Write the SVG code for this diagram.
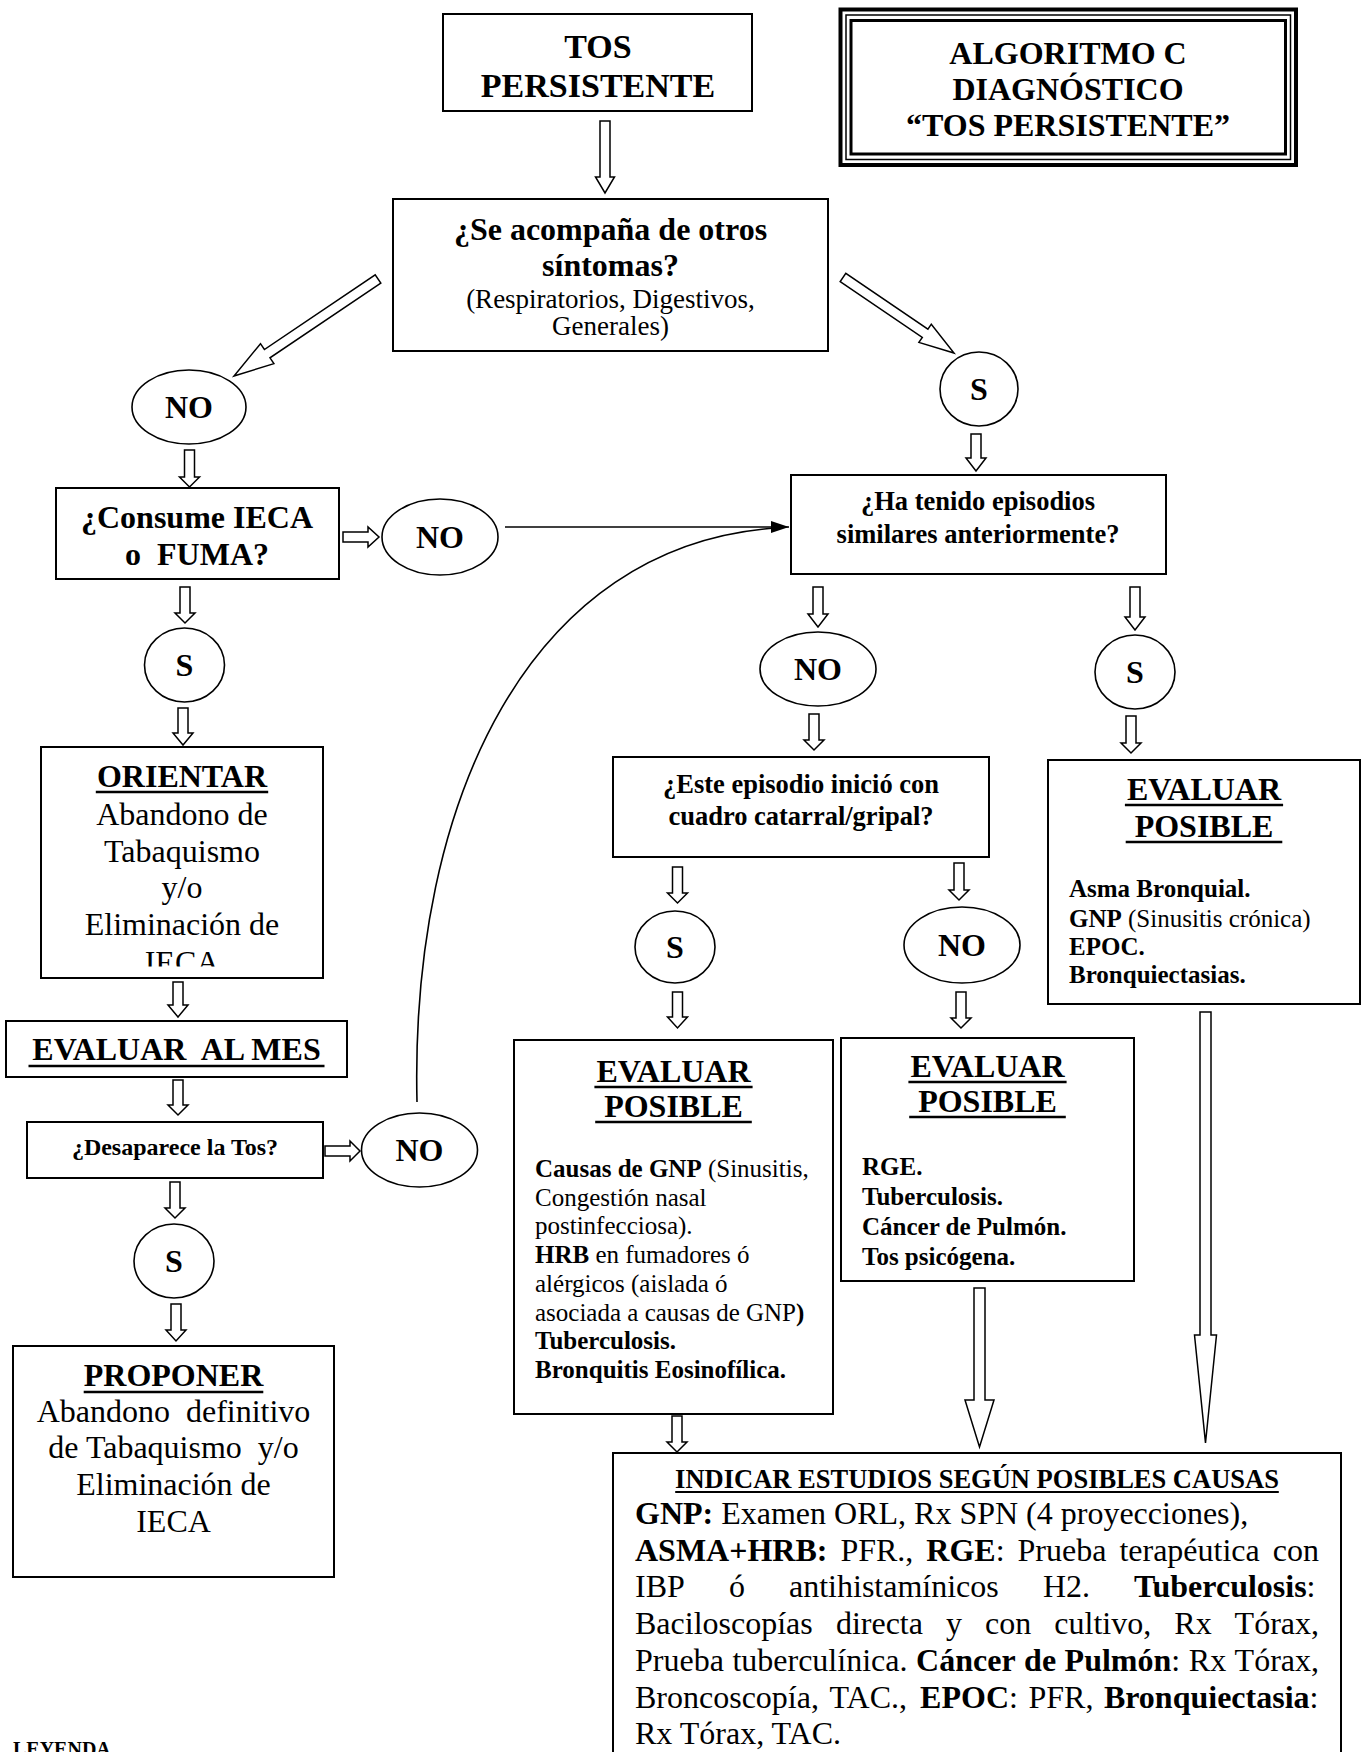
<svg xmlns="http://www.w3.org/2000/svg" width="1363" height="1752" viewBox="0 0 1363 1752">
  <style>
    text { font-family: "Liberation Serif", "Times New Roman", serif; fill: #000; }
    .b { font-weight: bold; }
    .c { text-anchor: middle; }
    .box { fill: #fff; stroke: #000; stroke-width: 2; }
    .ell { fill: #fff; stroke: #000; stroke-width: 1.6; }
    .blk { fill: #fff; stroke: #000; stroke-width: 1.5; stroke-linejoin: miter; }
    .ln { fill: none; stroke: #000; stroke-width: 1.6; }
    .ul { stroke: #000; stroke-width: 2.5; }
    .f32 { font-size: 32px; }
    .f26 { font-size: 26.5px; }
    .f25 { font-size: 25px; }
  </style>
  <defs>
    <marker id="tip" markerUnits="userSpaceOnUse" markerWidth="18" markerHeight="12" refX="18" refY="6" orient="auto">
      <path d="M0,0 L18,6 L0,12 z" fill="#000"/>
    </marker>
    <clipPath id="orientarClip">
      <rect x="41" y="747" width="282" height="219.5"/>
    </clipPath>
  </defs>
  <rect width="1363" height="1752" fill="#fff"/>

  <!-- connectors: hollow block arrows and the return line -->
  <g id="connectors">
    <polygon class="blk" points="600,121 610,121 610,177 614.5,177 605,193 595.5,177 600,177"/>
    <polygon class="blk" points="380.8,283.1 270.0,357.8 273.9,363.6 234,376 260.5,343.7 264.4,349.5 375.2,274.9"/>
    <polygon class="blk" points="840.2,281.6 922.3,337.4 918.9,342.4 954,353 931.3,324.2 927.9,329.2 845.8,273.4"/>
    <polygon class="blk" points="184.5,450 194.5,450 194.5,477 199.5,477 189.5,487 179.5,477 184.5,477"/>
    <polygon class="blk" points="343,532 368,532 368,527 379,537 368,547 368,542 343,542"/>
    <polygon class="blk" points="180,587 190,587 190,613 195,613 185,623 175,613 180,613"/>
    <polygon class="blk" points="178,708 188,708 188,733 193,733 183,745 173,733 178,733"/>
    <polygon class="blk" points="173,982 183,982 183,1005 188,1005 178,1017 168,1005 173,1005"/>
    <polygon class="blk" points="173,1080 183,1080 183,1105 188,1105 178,1115 168,1105 173,1105"/>
    <polygon class="blk" points="325,1146 350,1146 350,1141 360,1151 350,1161 350,1156 325,1156"/>
    <polygon class="blk" points="170,1182 180,1182 180,1208 185,1208 175,1218 165,1208 170,1208"/>
    <polygon class="blk" points="171,1304 181,1304 181,1330 186,1330 176,1341 166,1330 171,1330"/>
    <polygon class="blk" points="971,434 981,434 981,458 986,458 976,471 966,458 971,458"/>
    <polygon class="blk" points="813,587 823,587 823,614 828,614 818,627 808,614 813,614"/>
    <polygon class="blk" points="1130,587 1140,587 1140,617 1145,617 1135,630 1125,617 1130,617"/>
    <polygon class="blk" points="809,714 819,714 819,740 824,740 814,750 804,740 809,740"/>
    <polygon class="blk" points="1126,716 1136,716 1136,743 1141,743 1131,753 1121,743 1126,743"/>
    <polygon class="blk" points="672.5,867 682.5,867 682.5,893 687.5,893 677.5,903 667.5,893 672.5,893"/>
    <polygon class="blk" points="954,863 964,863 964,890 969,890 959,900 949,890 954,890"/>
    <polygon class="blk" points="672.5,992 682.5,992 682.5,1017 687.5,1017 677.5,1028 667.5,1017 672.5,1017"/>
    <polygon class="blk" points="956,992 966,992 966,1018 971,1018 961,1028 951,1018 956,1018"/>
    <polygon class="blk" points="672,1416 682,1416 682,1442 687,1442 677,1452 667,1442 672,1442"/>
    <polygon class="blk" points="974,1288 985,1288 985,1400 994,1400 979.5,1447 965,1400 974,1400"/>
    <polygon class="blk" points="1200,1012 1211,1012 1211,1335 1216.5,1335 1205.5,1443 1194.5,1335 1200,1335"/>
    <line class="ln" x1="505" y1="527" x2="789" y2="527" marker-end="url(#tip)"/>
    <path class="ln" d="M417,1102 C410,800 530,545 776,528"/>
  </g>

  <g id="title-box">
    <rect x="840.5" y="9.5" width="455.5" height="155.5" fill="#fff" stroke="#000" stroke-width="4"/>
    <rect x="846" y="15" width="444.5" height="144.5" fill="none" stroke="#000" stroke-width="1.5"/>
    <rect x="851" y="20.5" width="434.5" height="133.5" fill="none" stroke="#000" stroke-width="3"/>
    <text class="b c f32" x="1068" y="64">ALGORITMO C</text>
    <text class="b c f32" x="1068" y="100">DIAGNÓSTICO</text>
    <text class="b c f32" x="1068" y="136">“TOS PERSISTENTE”</text>
  </g>

  <g id="tos-persistente">
    <rect class="box" x="443" y="14" width="309" height="97"/>
    <text class="b c" x="598" y="58" font-size="34">TOS</text>
    <text class="b c" x="598" y="97" font-size="34">PERSISTENTE</text>
  </g>

  <g id="q-sintomas">
    <rect class="box" x="393" y="199" width="435" height="152"/>
    <text class="b c f32" x="610.5" y="240">¿Se acompaña de otros</text>
    <text class="b c f32" x="610.5" y="276">síntomas?</text>
    <text class="c" x="610.5" y="308" font-size="27">(Respiratorios, Digestivos,</text>
    <text class="c" x="610.5" y="335" font-size="27">Generales)</text>
  </g>

  <g id="no-1">
    <ellipse class="ell" cx="189" cy="407" rx="57" ry="37"/>
    <text class="b c f32" x="189" y="418">NO</text>
  </g>

  <g id="si-1">
    <ellipse class="ell" cx="979" cy="389" rx="39" ry="37"/>
    <text class="b c f32" x="979" y="400">S</text>
  </g>

  <g id="q-ieca">
    <rect class="box" x="56" y="488" width="283" height="91"/>
    <text class="b c f32" x="197" y="528">¿Consume IECA</text>
    <text class="b c f32" x="197" y="565" xml:space="preserve">o  FUMA?</text>
  </g>

  <g id="no-2">
    <ellipse class="ell" cx="440" cy="537" rx="58" ry="38"/>
    <text class="b c f32" x="440" y="548">NO</text>
  </g>

  <g id="q-episodios">
    <rect class="box" x="791" y="475" width="375" height="99"/>
    <text class="b c f26" x="978" y="510">¿Ha tenido episodios</text>
    <text class="b c f26" x="978" y="543">similares anteriormente?</text>
  </g>

  <g id="si-2">
    <ellipse class="ell" cx="184.5" cy="665" rx="40" ry="37"/>
    <text class="b c f32" x="184.5" y="676">S</text>
  </g>

  <g id="no-3">
    <ellipse class="ell" cx="818" cy="669" rx="58" ry="37"/>
    <text class="b c f32" x="818" y="680">NO</text>
  </g>

  <g id="si-3">
    <ellipse class="ell" cx="1135" cy="672" rx="40" ry="37"/>
    <text class="b c f32" x="1135" y="683">S</text>
  </g>

  <g id="orientar">
    <rect class="box" x="41" y="747" width="282" height="231"/>
    <g clip-path="url(#orientarClip)">
      <text class="b c f32" x="182" y="787">ORIENTAR</text>
      <line class="ul" x1="95.8" y1="792" x2="268.2" y2="792"/>
      <text class="c f32" x="182" y="825">Abandono de</text>
      <text class="c f32" x="182" y="861.5">Tabaquismo</text>
      <text class="c f32" x="182" y="898">y/o</text>
      <text class="c f32" x="182" y="934.5">Eliminación de</text>
      <text class="c f32" x="182" y="973">IECA</text>
    </g>
  </g>

  <g id="q-catarral">
    <rect class="box" x="613" y="757" width="376" height="100"/>
    <text class="b c f26" x="801" y="793">¿Este episodio inició con</text>
    <text class="b c f26" x="801" y="825">cuadro catarral/gripal?</text>
  </g>

  <g id="evaluar-cronica">
    <rect class="box" x="1048" y="760" width="312" height="244"/>
    <text class="b c f32" x="1204" y="800">EVALUAR</text>
    <line class="ul" x1="1124.9" y1="805" x2="1283.1" y2="805"/>
    <text class="b c f32" x="1204" y="837">POSIBLE</text>
    <line class="ul" x1="1125.7" y1="842" x2="1282.3" y2="842"/>
    <text class="f25" x="1069" y="897"><tspan class="b">Asma Bronquial.</tspan></text>
    <text class="f25" x="1069" y="927"><tspan class="b">GNP</tspan> (Sinusitis crónica)</text>
    <text class="f25" x="1069" y="955"><tspan class="b">EPOC.</tspan></text>
    <text class="f25" x="1069" y="983"><tspan class="b">Bronquiectasias.</tspan></text>
  </g>

  <g id="si-4">
    <ellipse class="ell" cx="675" cy="947" rx="40" ry="36"/>
    <text class="b c f32" x="675" y="958">S</text>
  </g>

  <g id="no-4">
    <ellipse class="ell" cx="962" cy="945" rx="58" ry="38"/>
    <text class="b c f32" x="962" y="956">NO</text>
  </g>

  <g id="evaluar-mes">
    <rect class="box" x="6" y="1021" width="341" height="56"/>
    <text class="b c f32" x="176.5" y="1060" xml:space="preserve">EVALUAR  AL MES</text>
    <line class="ul" x1="28.5" y1="1066" x2="324.5" y2="1066"/>
  </g>

  <g id="evaluar-postinfecciosa">
    <rect class="box" x="514" y="1040" width="319" height="374"/>
    <text class="b c f32" x="673.5" y="1082">EVALUAR</text>
    <line class="ul" x1="594.4" y1="1087" x2="752.6" y2="1087"/>
    <text class="b c f32" x="673.5" y="1117">POSIBLE</text>
    <line class="ul" x1="595.2" y1="1122" x2="751.8" y2="1122"/>
    <text class="f25" x="535" y="1177"><tspan class="b">Causas de GNP</tspan> (Sinusitis,</text>
    <text class="f25" x="535" y="1205.7">Congestión nasal</text>
    <text class="f25" x="535" y="1234.4">postinfecciosa).</text>
    <text class="f25" x="535" y="1263"><tspan class="b">HRB</tspan> en fumadores ó</text>
    <text class="f25" x="535" y="1291.8">alérgicos (aislada ó</text>
    <text class="f25" x="535" y="1320.5">asociada a causas de GNP<tspan class="b">)</tspan></text>
    <text class="f25 b" x="535" y="1349">Tuberculosis.</text>
    <text class="f25 b" x="535" y="1378">Bronquitis Eosinofílica.</text>
  </g>

  <g id="evaluar-otras">
    <rect class="box" x="841" y="1038" width="293" height="243"/>
    <text class="b c f32" x="987.5" y="1077">EVALUAR</text>
    <line class="ul" x1="908.4" y1="1082" x2="1066.6" y2="1082"/>
    <text class="b c f32" x="987.5" y="1112">POSIBLE</text>
    <line class="ul" x1="909.2" y1="1117" x2="1065.8" y2="1117"/>
    <text class="f25 b" x="862" y="1175">RGE.</text>
    <text class="f25 b" x="862" y="1205">Tuberculosis.</text>
    <text class="f25 b" x="862" y="1235">Cáncer de Pulmón.</text>
    <text class="f25 b" x="862" y="1265">Tos psicógena.</text>
  </g>

  <g id="q-desaparece">
    <rect class="box" x="27" y="1122" width="296" height="56"/>
    <text class="b c" x="175" y="1155" font-size="24">¿Desaparece la Tos?</text>
  </g>

  <g id="no-5">
    <ellipse class="ell" cx="419.5" cy="1150" rx="58" ry="37"/>
    <text class="b c f32" x="419.5" y="1161">NO</text>
  </g>

  <g id="si-5">
    <ellipse class="ell" cx="174" cy="1261" rx="40" ry="37"/>
    <text class="b c f32" x="174" y="1272">S</text>
  </g>

  <g id="proponer">
    <rect class="box" x="13" y="1346" width="321" height="231"/>
    <text class="b c f32" x="173.5" y="1386">PROPONER</text>
    <line class="ul" x1="83.7" y1="1392" x2="263.3" y2="1392"/>
    <text class="c f32" x="173.5" y="1422" xml:space="preserve">Abandono  definitivo</text>
    <text class="c f32" x="173.5" y="1458" xml:space="preserve">de Tabaquismo  y/o</text>
    <text class="c f32" x="173.5" y="1495">Eliminación de</text>
    <text class="c f32" x="173.5" y="1532">IECA</text>
  </g>

  <g id="indicar-estudios">
    <rect class="box" x="613" y="1453" width="728" height="360"/>
    <text class="b c" x="977" y="1488" font-size="26.5">INDICAR ESTUDIOS SEGÚN POSIBLES CAUSAS</text>
    <line x1="675.2" y1="1492" x2="1278.8" y2="1492" stroke="#000" stroke-width="2"/>
    <text class="f32" x="635" y="1524"><tspan class="b">GNP:</tspan> Examen ORL, Rx SPN (4 proyecciones),</text>
    <text class="f32" y="1560.7"><tspan class="b" x="635">ASMA+HRB:</tspan><tspan x="840.4">PFR.,</tspan><tspan class="b" x="926.3">RGE</tspan><tspan>:</tspan><tspan x="1017.5">Prueba</tspan><tspan x="1119.4">terapéutica</tspan><tspan x="1272.8">con</tspan></text>
    <text class="f32" y="1597.4"><tspan x="635">IBP</tspan><tspan x="728.9">ó</tspan><tspan x="789">antihistamínicos</tspan><tspan x="1042.9">H2.</tspan><tspan class="b" x="1134.1">Tuberculosis</tspan><tspan>:</tspan></text>
    <text class="f32" y="1634.1"><tspan x="635">Baciloscopías</tspan><tspan x="835.9">directa</tspan><tspan x="946">y</tspan><tspan x="985.1">con</tspan><tspan x="1054.3">cultivo,</tspan><tspan x="1174.3">Rx</tspan><tspan x="1234.6">Tórax,</tspan></text>
    <text class="f32" y="1670.8"><tspan x="635">Prueba</tspan><tspan x="732.4">tuberculínica.</tspan><tspan class="b" x="916.1">Cáncer</tspan><tspan class="b" x="1024.1">de</tspan><tspan class="b" x="1064.6">Pulmón</tspan><tspan>:</tspan><tspan x="1188.8">Rx</tspan><tspan x="1234.6">Tórax,</tspan></text>
    <text class="f32" y="1707.5"><tspan x="635">Broncoscopía,</tspan><tspan x="829.6">TAC.,</tspan><tspan class="b" x="920.1">EPOC</tspan><tspan>:</tspan><tspan x="1028.5">PFR,</tspan><tspan class="b" x="1103.9">Bronquiectasia</tspan><tspan>:</tspan></text>
    <text class="f32" x="635" y="1744.2">Rx Tórax, TAC.</text>
  </g>

  <g id="leyenda">
    <text class="b" x="13" y="1756" font-size="20">LEYENDA</text>
  </g>
</svg>
